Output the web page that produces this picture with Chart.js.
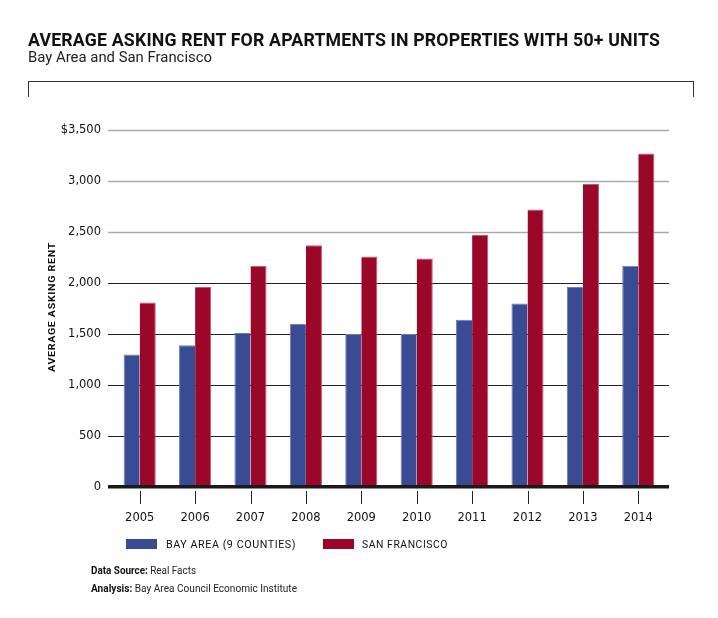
<!DOCTYPE html>
<html>
<head>
<meta charset="utf-8">
<script src="https://cdn.jsdelivr.net/npm/chart.js@4.4.1/dist/chart.umd.min.js"></script>
<style>
  html, body { margin:0; padding:0; background:#fff; }
  body { width:718px; height:618px; position:relative; overflow:hidden; font-family:"Roboto","Liberation Sans",sans-serif; color:#111; }
  #wrap { position:absolute; left:0; top:0; width:718px; height:618px; }
  .abs { position:absolute; white-space:nowrap; transform-origin:0 0; }
  #title { left:28px; top:28px; font-size:19px; font-weight:700; letter-spacing:0.2px; color:#111; }
  #subtitle { left:28px; top:49px; font-size:14px; color:#222; }
  #frame { position:absolute; left:28px; top:81px; width:666px; height:16px; border:1px solid #333; border-bottom:none; box-sizing:border-box; }
  #ytitle { font-size:9.5px; font-weight:700; letter-spacing:0.6px; color:#111; }
  .leg { position:absolute; font-size:11.5px; letter-spacing:0.6px; color:#111; }
  .box { position:absolute; width:31px; height:10px; }
  .foot { position:absolute; left:91px; font-size:10px; color:#222; }
  .foot b { color:#111; }
</style>
</head>
<body>
<div id="wrap"><canvas id="c" width="718" height="618"></canvas></div>
<div id="title" class="abs">AVERAGE ASKING RENT FOR APARTMENTS IN PROPERTIES WITH 50+ UNITS</div>
<div id="subtitle" class="abs">Bay Area and San Francisco</div>
<div id="frame"></div>
<div id="ytitle" class="abs">AVERAGE ASKING RENT</div>
<div class="box" style="left:126px;top:539px;background:#384b93;"></div>
<div id="leg1" class="leg abs" style="left:166px;top:537px;">BAY AREA (9 COUNTIES)</div>
<div class="box" style="left:323px;top:539px;background:#9a0729;"></div>
<div id="leg2" class="leg abs" style="left:362px;top:537px;">SAN FRANCISCO</div>
<div id="foot1" class="foot abs" style="top:565px;"><b>Data Source:</b> Real Facts</div>
<div id="foot2" class="foot abs" style="top:583px;"><b>Analysis:</b> Bay Area Council Economic Institute</div>
<script>
const years = ["2005","2006","2007","2008","2009","2010","2011","2012","2013","2014"];
const bayArea = [1300,1390,1510,1600,1500,1500,1640,1800,1960,2170];
const sanFrancisco = [1810,1960,2170,2370,2260,2240,2470,2720,2970,3270];
const seriesNames = ["BAY AREA (9 COUNTIES)","SAN FRANCISCO"];
const yTicks = [0,500,1000,1500,2000,2500,3000,3500];

function fit(id, target) {
  const el = document.getElementById(id);
  const w = el.getBoundingClientRect().width;
  el.style.transform = 'scaleX(' + (target / w) + ')';
}
fit('title', 632);
fit('subtitle', 184);
fit('leg1', 130);
fit('leg2', 86);
fit('foot1', 105);
fit('foot2', 206);
(function(){
  const el = document.getElementById('ytitle');
  const r = el.getBoundingClientRect();
  const s = 130 / r.width;
  const h = r.height;
  el.style.left = (51 - h/2) + 'px';
  el.style.top = (307 + 65) + 'px';
  el.style.transform = 'rotate(-90deg) scaleX(' + s + ')';
})();

const gridPlugin = {
  id: 'customGrid',
  beforeDatasetsDraw(chart) {
    const ctx = chart.ctx, y = chart.scales.y;
    const L = chart.chartArea.left - 4, R = chart.chartArea.right + 3;
    ctx.save();
    yTicks.forEach(v => {
      if (v === 0) return;
      const py = Math.round(y.getPixelForValue(v)) + 0.5;
      ctx.beginPath();
      ctx.strokeStyle = v >= 2500 ? '#aaaaaa' : '#222222';
      ctx.lineWidth = v >= 2500 ? 1.5 : 1.2;
      ctx.moveTo(L, py); ctx.lineTo(R, py); ctx.stroke();
    });
    ctx.restore();
  },
  afterDatasetsDraw(chart) {
    const ctx = chart.ctx, y = chart.scales.y, x = chart.scales.x;
    const L = chart.chartArea.left - 4, R = chart.chartArea.right + 3;
    const p0 = y.getPixelForValue(0);
    ctx.save();
    ctx.fillStyle = '#1a1a1a';
    ctx.fillRect(L, p0 - 2, R - L, 3.5);
    ctx.strokeStyle = '#222';
    ctx.lineWidth = 1;
    years.forEach((_, i) => {
      const px = Math.round(x.getPixelForTick(i)) + 0.5;
      ctx.beginPath(); ctx.moveTo(px, p0 + 4); ctx.lineTo(px, p0 + 17); ctx.stroke();
    });
    ctx.restore();
  }
};

new Chart(document.getElementById('c'), {
  type: 'bar',
  data: {
    labels: years,
    datasets: [
      { label: seriesNames[0], data: bayArea, backgroundColor: '#384b93', borderColor: '#6f7cb2', borderWidth: {top:1,left:1,right:0,bottom:0}, borderSkipped: false },
      { label: seriesNames[1], data: sanFrancisco, backgroundColor: '#9a0729', borderColor: '#c05a70', borderWidth: {top:1,left:0,right:1,bottom:0}, borderSkipped: false }
    ]
  },
  options: {
    responsive: false,
    animation: false,
    devicePixelRatio: 1,
    layout: { padding: { top: 130, right: 52, left: 0, bottom: 88 } },
    plugins: { legend: { display: false }, tooltip: { enabled: false } },
    datasets: { bar: { categoryPercentage: 0.58, barPercentage: 1.0 } },
    scales: {
      x: {
        grid: { display: false, drawTicks: false },
        border: { display: false },
        ticks: { color: '#111', font: { family: 'DejaVu Sans', size: 11.5 }, padding: 24, maxRotation: 0 },
        afterFit(s) { s.height = 43; }
      },
      y: {
        min: 0, max: 3500,
        afterBuildTicks(s) { s.ticks = yTicks.map(v => ({ value: v })); },
        grid: { display: false, drawTicks: false },
        border: { display: false },
        ticks: {
          color: '#111', font: { family: 'DejaVu Sans', size: 11.5 }, padding: 11,
          callback: v => v === 3500 ? '$3,500' : v.toLocaleString('en-US')
        },
        afterFit(s) { s.width = 112; }
      }
    }
  },
  plugins: [gridPlugin]
});
</script>
</body>
</html>
